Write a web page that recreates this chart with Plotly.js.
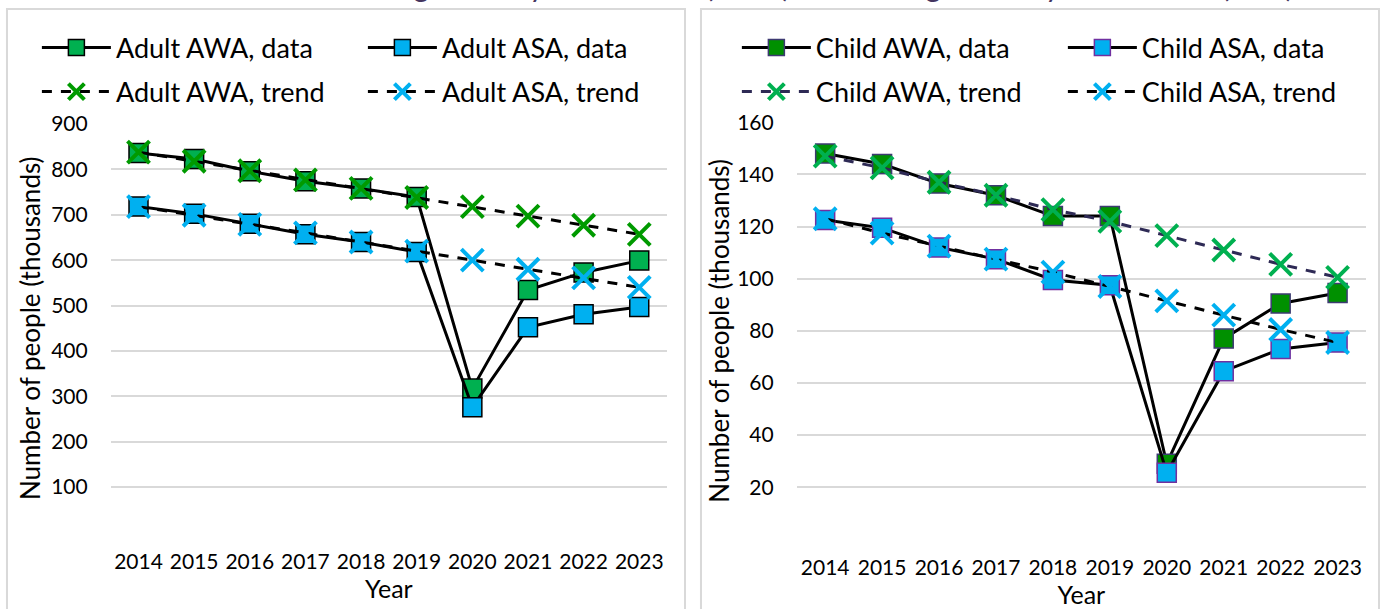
<!DOCTYPE html>
<html>
<head>
<meta charset="utf-8">
<script src="https://cdn.plot.ly/plotly-3.0.1.min.js"></script>
<style>html,body{margin:0;padding:0;background:#fff;}#chart{width:1389px;height:609px;}</style>
</head>
<body>
<div id="chart"></div>
<script>
const years = ['2014','2015','2016','2017','2018','2019','2020','2021','2022','2023'];

const adultAwaData  = [836, 823, 796, 774, 758, 739, 317, 534, 573, 599];
const adultAsaData  = [718, 702, 680, 657, 640, 618, 276, 452, 481, 497];
const adultAwaTrend = [838, 818, 797, 777, 758, 738, 718, 697, 677, 657];
const adultAsaTrend = [718, 699, 679, 660, 640, 620, 600, 580, 561, 540];

const childAwaData  = [148, 144, 136.5, 132, 124, 124, 29, 77, 90.5, 94.5];
const childAsaData  = [122.5, 119.5, 112, 107.5, 99.5, 97.5, 25.5, 64.5, 73, 75.5];
const childAwaTrend = [147, 142.5, 137, 132, 126.5, 122, 116.5, 111, 105.5, 100.5];
const childAsaTrend = [123, 117.5, 112.5, 107.5, 102.5, 97, 91.5, 86, 80.5, 75.5];

const adultTicks = [0,100,200,300,400,500,600,700,800,900];
const adultTickText = ['','100','200','300','400','500','600','700','800','900'];
const childTicks = [0,20,40,60,80,100,120,140,160];
const childTickText = ['','20','40','60','80','100','120','140','160'];

const titleText = 'Average weekly attendance (AWA) and average Sunday attendance (ASA)';
const FONT = 'Lato, "Open Sans", sans-serif';
const W = 1389, H = 609;
const px = v => v / W;
const py = v => 1 - v / H;

function dataTrace(name, y, xa, ya, fill, edge, leg) {
  return {type:'scatter', mode:'lines+markers', name, x: years, y, xaxis: xa, yaxis: ya,
    line:{color:'#000', width:3},
    marker:{symbol:'square', size:19, color:fill, line:{color:edge, width:1.5}},
    legend: leg};
}
function trendTrace(name, y, xa, ya, mcol, lcol, leg) {
  return {type:'scatter', mode:'lines+markers', name, x: years, y, xaxis: xa, yaxis: ya,
    line:{color:lcol, width:3, dash:'10px,9px'},
    marker:{symbol:'x-thin', size:22, color:mcol, line:{color:mcol, width:4}},
    legend: leg};
}

const traces = [
  dataTrace('Adult AWA, data', adultAwaData, 'x', 'y', '#00b050', '#000', 'legend'),
  dataTrace('Adult ASA, data', adultAsaData, 'x', 'y', '#00b0f0', '#000', 'legend'),
  trendTrace('Adult AWA, trend', adultAwaTrend, 'x', 'y', '#009a00', '#000', 'legend2'),
  trendTrace('Adult ASA, trend', adultAsaTrend, 'x', 'y', '#00b0f0', '#000', 'legend2'),
  dataTrace('Child AWA, data', childAwaData, 'x2', 'y2', '#009000', '#3d3a72', 'legend3'),
  dataTrace('Child ASA, data', childAsaData, 'x2', 'y2', '#00b0f0', '#7030a0', 'legend3'),
  trendTrace('Child AWA, trend', childAwaTrend, 'x2', 'y2', '#00b050', '#2e2a55', 'legend4'),
  trendTrace('Child ASA, trend', childAsaTrend, 'x2', 'y2', '#00b0f0', '#000', 'legend4')
];

function xAxis(domain, anchor) {
  return {domain, anchor, type:'category', range:[-0.5, 9.5], showgrid:false, showline:false,
    zeroline:false, ticks:'', ticklabelstandoff:14, tickfont:{family:FONT, size:21, color:'#000'},
    title:{text:'Year', font:{family:FONT, size:25, color:'#000'}, standoff:2}, automargin:false, fixedrange:true};
}
function yAxis(domain, anchor, range, tv, tt, standoff) {
  return {domain, anchor, range, tickvals:tv, ticktext:tt, showgrid:true, gridcolor:'#d9d9d9', gridwidth:2,
    showline:false, zeroline:false, ticks:'', ticklabelstandoff:22,
    tickfont:{family:FONT, size:21, color:'#000'},
    title:{text:'Number of people (thousands)', font:{family:FONT, size:26, color:'#000'}, standoff},
    automargin:false, fixedrange:true};
}

function legendCfg(xPix, yPix) {
  return {orientation:'h', x:px(xPix), y:py(yPix), xanchor:'left', yanchor:'middle',
    entrywidth:242, itemwidth:69, font:{family:FONT, size:27, color:'#000'}, bgcolor:'rgba(0,0,0,0)',
    traceorder:'normal', itemclick:false, itemdoubleclick:false};
}

const layout = {
  width: W, height: H,
  margin:{l:0, r:0, t:0, b:0},
  paper_bgcolor:'#fff', plot_bgcolor:'#fff',
  showlegend:true,
  xaxis: xAxis([px(111), px(669)], 'y'),
  yaxis: yAxis([py(532.5), py(124)], 'x', [0, 900], adultTicks, adultTickText, 3),
  xaxis2: xAxis([px(799), px(1370)], 'y2'),
  yaxis2: yAxis([py(539.3), py(122.3)], 'x2', [0, 160], childTicks, childTickText, 0),
  legend: legendCfg(37, 48),
  legend2: legendCfg(37, 92),
  legend3: legendCfg(739, 48),
  legend4: legendCfg(739, 92),
  shapes: [
    {type:'rect', xref:'paper', yref:'paper', x0:px(7), x1:px(687), y0:py(620), y1:py(9), line:{color:'#d9d9d9', width:2}, fillcolor:'rgba(0,0,0,0)', layer:'below'},
    {type:'rect', xref:'paper', yref:'paper', x0:px(703), x1:px(1383), y0:py(620), y1:py(9), line:{color:'#d9d9d9', width:2}, fillcolor:'rgba(0,0,0,0)', layer:'below'}
  ],
  annotations: [
    {text:titleText, xref:'paper', yref:'paper', x:px(818), y:py(-15), xanchor:'center', yanchor:'middle',
     showarrow:false, font:{family:FONT, size:30, color:'#44355f'}}
  ]
};

Plotly.newPlot('chart', traces, layout, {displayModeBar:false, staticPlot:true});
</script>
</body>
</html>
